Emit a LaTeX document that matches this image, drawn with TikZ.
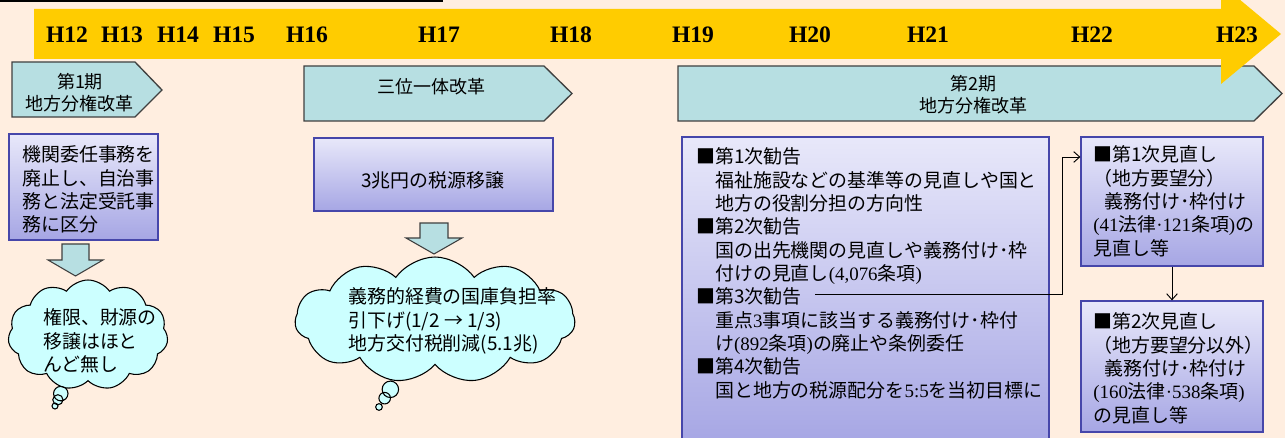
\documentclass[tikz,border=0pt]{standalone}
\usepackage{fontspec}
\setmainfont{Noto Sans CJK JP}
\newfontfamily\tms{Liberation Serif}
\usetikzlibrary{shapes.symbols,shapes.callouts,arrows.meta,fit}
\lineskiplimit=-1000pt
\newcommand\jpfont{\fontsize{14.2pt}{17.5pt}\selectfont}
\newcommand\pfont{\fontsize{13.5pt}{16.5pt}\selectfont}
\newcommand\hfont{\tms\bfseries\fontsize{17.7pt}{20pt}\selectfont}
\newcommand\mylines[1]{\vtop{\halign{##\hfil\cr#1\crcr}}}
\newcommand\mylinesc[1]{\vtop{\halign{\hfil##\hfil\cr#1\crcr}}}
\definecolor{bg}{RGB}{255,238,224}
\definecolor{ylw}{RGB}{255,204,0}
\definecolor{pent}{RGB}{183,223,226}
\definecolor{pentdraw}{RGB}{64,64,64}
\definecolor{boxtop}{RGB}{232,232,250}
\definecolor{boxbot}{RGB}{166,166,228}
\definecolor{boxdraw}{RGB}{70,70,170}
\definecolor{cloudfill}{RGB}{204,255,255}
\begin{document}
\begin{tikzpicture}[x=0.75pt,y=-0.75pt,
 pentst/.style={fill=pent, draw=pentdraw, line width=1pt},
 box/.style={draw=boxdraw, line width=0.9pt, top color=boxtop, bottom color=boxbot, inner sep=0pt},
 blockarr/.style={fill=pent, draw=pentdraw, line width=0.8pt},
 cloudc/.style={cloud callout, cloud puffs=11, cloud puff arc=110, cloud ignores aspect, draw=black, line width=0.8pt, fill=cloudfill, inner sep=0pt, callout pointer segments=3},
 txt/.style={inner sep=0pt, font=\jpfont, anchor=base west},
 ptxt/.style={inner sep=0pt, font=\pfont, anchor=base},
 ylab/.style={inner sep=0pt, font=\hfont, anchor=base},
 conn/.style={line width=0.7pt, -{Straight Barb[length=4.5pt,width=8pt]}}]
\useasboundingbox (0,0) rectangle (1285,438);
\fill[bg] (0,0) rectangle (1285,438);
\draw[line width=1.6pt] (0,1) -- (443,1);
% period pentagons
\draw[pentst] (12,62) -- (135,62) -- (162,90) -- (135,117) -- (12,117) -- cycle;
\draw[pentst] (304,66) -- (544,66) -- (572,93.5) -- (544,121) -- (304,121) -- cycle;
\draw[pentst] (678,66) -- (1254,66) -- (1282,93.5) -- (1254,121) -- (678,121) -- cycle;
% timeline arrow
\fill[ylw] (34,9) -- (1221,9) -- (1221,-16) -- (1281,34) -- (1221,84) -- (1221,59) -- (34,59) -- cycle;
\node[ylab] (h12) at (67,43) {H12};
\node[ylab] (h13) at (122,43) {H13};
\node[ylab] (h14) at (178,43) {H14};
\node[ylab] (h15) at (234,43) {H15};
\node[ylab] (h16) at (307,43) {H16};
\node[ylab] (h17) at (439,43) {H17};
\node[ylab] (h18) at (571,43) {H18};
\node[ylab] (h19) at (693,43) {H19};
\node[ylab] (h20) at (810,43) {H20};
\node[ylab] (h21) at (928,43) {H21};
\node[ylab] (h22) at (1092,43) {H22};
\node[ylab] (h23) at (1237,43) {H23};
% pentagon texts
\node[ptxt] (p1t) at (80,89) {\mylinesc{第1期\cr 地方分権改革}};
\node[ptxt] (p2t) at (431,94) {三位一体改革};
\node[ptxt] (p3t) at (973,91) {\mylinesc{第2期\cr 地方分権改革}};
% boxes
\node[box, fit={(9,134) (158,240)}] (b1) {};
\node[box, fit={(314,138) (553,211)}] (b2) {};
\node[box, fit={(682,137) (1049,445)}] (b3) {};
\node[box, fit={(1081,137) (1263,266)}] (b4) {};
\node[box, fit={(1081,301) (1263,432)}] (b5) {};
% block arrows
\draw[blockarr] (62,244) -- (89,244) -- (89,260) -- (103,260) -- (75.5,276) -- (48,260) -- (62,260) -- cycle;
\draw[blockarr] (420,223) -- (448,223) -- (448,238) -- (462,238) -- (434,254) -- (406,238) -- (420,238) -- cycle;
% clouds
\node[cloudc, minimum width=120pt, minimum height=82.5pt, callout pointer start size=14pt and 14pt, callout pointer end size=4.5pt and 4.5pt, callout absolute pointer={(55,406)}] (cl1) at (88,335) {};
\node[cloudc, minimum width=210pt, minimum height=94.5pt, callout pointer start size=16pt and 16pt, callout pointer end size=5pt and 5pt, callout absolute pointer={(379,407)}] (cl2) at (435,320) {};
% texts
\node[txt] (t1) at (22,162) {\mylines{機関委任事務を\cr 廃止し、自治事\cr 務と法定受託事\cr 務に区分}};
\node[txt, anchor=base] (t2) at (433,188) {3兆円の税源移譲};
\node[txt] (tc1) at (43,325) {\mylines{権限、財源の\cr 移譲はほと\cr んど無し}};
\node[txt] (tc2) at (348,304) {\mylines{義務的経費の国庫負担率\cr 引下げ(1/2 → 1/3)\cr 地方交付税削減(5.1兆)}};
\node[txt] (t3) at (696,164) {\mylines{■第1次勧告\cr
　福祉施設などの基準等の見直しや国と\cr
　地方の役割分担の方向性\cr
■第2次勧告\cr
　国の出先機関の見直しや義務付け･枠\cr
　付けの見直し{\tms(4,076}条項{\tms)}\cr
■第3次勧告\cr
　重点{\tms3}事項に該当する義務付け･枠付\cr
　け{\tms(892}条項{\tms)}の廃止や条例委任\cr
■第4次勧告\cr
　国と地方の税源配分を{\tms5:5}を当初目標に}};
\node[txt] (t4) at (1093,162) {\mylines{■第1次見直し\cr
（地方要望分）\cr
\hspace*{0.6em}義務付け･枠付け\cr
{\tms(41}法律{\tms·121}条項{\tms)}の\cr
見直し等}};
\node[txt] (t5) at (1093,329) {\mylines{■第2次見直し\cr
（地方要望分以外）\cr
\hspace*{0.6em}義務付け･枠付け\cr
{\tms(160}法律{\tms·538}条項{\tms)}\cr
の見直し等}};
% connectors
\coordinate (c3) at (815,294);
\coordinate (jog) at (1062,157);
\draw[conn] (c3) -| (jog) -- (b4.west |- jog);
\draw[conn] (b4.south) -- (b5.north);
\end{tikzpicture}
\end{document}
